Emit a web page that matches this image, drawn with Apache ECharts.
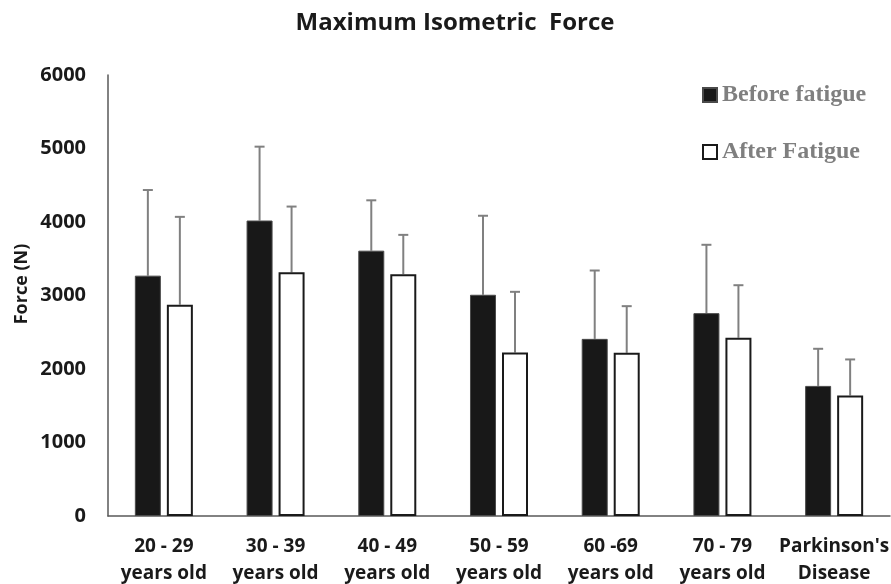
<!DOCTYPE html>
<html>
<head>
<meta charset="utf-8">
<title>Maximum Isometric Force</title>
<script src="https://cdn.jsdelivr.net/npm/echarts@6/dist/echarts.min.js"></script>
<style>
  html, body { margin: 0; padding: 0; background: #fff; }
  #chart { width: 891px; height: 584px; }
</style>
</head>
<body>
<div id="chart"></div>
<script>
// Age groups and the Parkinson's group
const categories = [
  '20 - 29\nyears old',
  '30 - 39\nyears old',
  '40 - 49\nyears old',
  '50 - 59\nyears old',
  '60 -69\nyears old',
  '70 - 79\nyears old',
  "Parkinson's\nDisease"
];

// Mean maximum isometric force (N)
const beforeFatigue = [3270, 4020, 3610, 3010, 2410, 2760, 1770];
const afterFatigue  = [2875, 3315, 3290, 2225, 2220, 2425, 1640];

// Standard deviations (upper error bars)
const beforeSD = [1165, 1005, 685, 1075, 930, 930, 505];
const afterSD  = [1195, 895, 535, 825, 635, 715, 490];

// Y axis ticks
const yTicks = [0, 1000, 2000, 3000, 4000, 5000, 6000];

const BAR_W = 26;
const BAR_GAP = 6;
const HALF_STEP = (BAR_W + BAR_GAP) / 2;

function errorSeries(name, means, sds, shift) {
  return {
    type: 'custom',
    name: name + ' SD',
    z: 1,
    silent: true,
    data: means.map((m, i) => [i, m, sds[i]]),
    encode: { x: 0, y: 1 },
    renderItem: function (params, api) {
      const i = api.value(0);
      const mean = api.value(1);
      const sd = api.value(2);
      const base = api.coord([i, mean]);
      const top = api.coord([i, mean + sd]);
      const x = base[0] + shift;
      const cap = 5;
      const style = { stroke: '#808080', lineWidth: 2 };
      return {
        type: 'group',
        children: [
          { type: 'line', shape: { x1: x, y1: base[1], x2: x, y2: top[1] }, style: style },
          { type: 'line', shape: { x1: x - cap, y1: top[1], x2: x + cap, y2: top[1] }, style: style }
        ]
      };
    }
  };
}

const chart = echarts.init(document.getElementById('chart'), null, { renderer: 'canvas' });

chart.setOption({
  backgroundColor: '#ffffff',
  animation: false,
  title: {
    text: 'Maximum Isometric  Force',
    left: 450,
    textAlign: 'center',
    top: 6,
    textStyle: {
      fontFamily: 'Open Sans',
      fontWeight: 'bold',
      fontSize: 24,
      color: '#1a1a1a'
    }
  },
  legend: {
    orient: 'vertical',
    left: 702,
    top: 83,
    padding: 0,
    itemWidth: 14,
    itemHeight: 14,
    itemGap: 33,
    icon: 'rect',
    data: ['Before fatigue', 'After Fatigue'],
    textStyle: {
      fontFamily: 'Liberation Serif',
      fontWeight: 'bold',
      fontSize: 24,
      color: '#7f7f7f'
    }
  },
  // Vertical axis title
  graphic: [{
    type: 'text',
    x: 22,
    y: 284,
    rotation: Math.PI / 2,
    style: {
      text: 'Force (N)',
      fontFamily: 'Open Sans',
      fontWeight: 'bold',
      fontSize: 18,
      fill: '#1a1a1a',
      align: 'center',
      verticalAlign: 'middle'
    }
  }],
  grid: { left: 108, right: 1, top: 75, bottom: 68, containLabel: false, outerBoundsMode: 'none' },
  xAxis: {
    type: 'category',
    data: categories,
    axisLine: { show: true, lineStyle: { color: '#595959', width: 1.5 } },
    axisTick: { show: false },
    axisLabel: {
      interval: 0,
      margin: 17,
      fontFamily: 'Open Sans',
      fontWeight: 'bold',
      fontSize: 19,
      lineHeight: 27,
      color: '#1a1a1a'
    }
  },
  yAxis: {
    type: 'value',
    min: yTicks[0],
    max: yTicks[yTicks.length - 1],
    interval: yTicks[1] - yTicks[0],
    axisLine: { show: true, lineStyle: { color: '#595959', width: 1.5 } },
    axisTick: { show: false },
    splitLine: { show: false },
    axisLabel: {
      margin: 22,
      formatter: function (v) { return String(v); },
      fontFamily: 'Open Sans',
      fontWeight: 'bold',
      fontSize: 20,
      color: '#1a1a1a'
    }
  },
  series: [
    errorSeries('Before fatigue', beforeFatigue, beforeSD, -HALF_STEP),
    errorSeries('After Fatigue', afterFatigue, afterSD, HALF_STEP),
    {
      type: 'bar',
      name: 'Before fatigue',
      z: 2,
      barWidth: BAR_W,
      barGap: (BAR_GAP / BAR_W * 100).toFixed(1) + '%',
      data: beforeFatigue,
      itemStyle: { color: '#181818', borderColor: '#4a4a4a', borderWidth: 1 }
    },
    {
      type: 'bar',
      name: 'After Fatigue',
      z: 2,
      barWidth: BAR_W,
      data: afterFatigue,
      itemStyle: { color: '#ffffff', borderColor: '#1a1a1a', borderWidth: 2 }
    }
  ]
});
</script>
</body>
</html>
